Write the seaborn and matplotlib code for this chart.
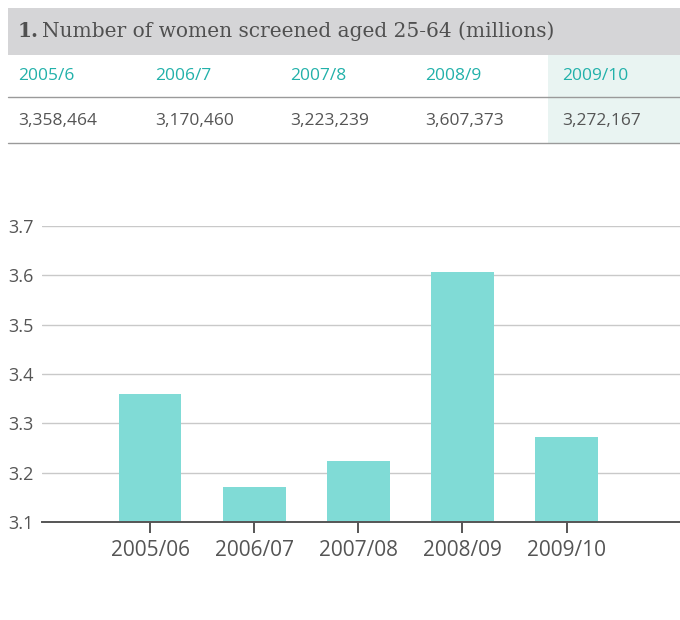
import matplotlib
matplotlib.use("Agg")
import matplotlib.pyplot as plt
from matplotlib.patches import Rectangle
from matplotlib.lines import Line2D
import seaborn as sns
import pandas as pd

# Screening data: women aged 25-64 screened per year
table_years = ["2005/6", "2006/7", "2007/8", "2008/9", "2009/10"]
table_counts = [3358464, 3170460, 3223239, 3607373, 3272167]
axis_years = ["2005/06", "2006/07", "2007/08", "2008/09", "2009/10"]
y_ticks = [3.1, 3.2, 3.3, 3.4, 3.5, 3.6, 3.7]
title_number = "1."
title_text = "Number of women screened aged 25-64 (millions)"

df = pd.DataFrame({"year": axis_years,
                   "millions": [c / 1e6 for c in table_counts]})

sns.set_theme(style="white")
plt.rcParams["font.family"] = ["Open Sans", "DejaVu Sans"]

W, H = 680, 620
fig = plt.figure(figsize=(W / 100, H / 100), dpi=100)

def fx(px):
    return px / W

def fy(py):
    return 1 - py / H

TEAL_TXT = "#22b1aa"
GREY_TXT = "#555555"

# Header band
fig.add_artist(Rectangle((fx(8), fy(55)), fx(672), (47) / H,
                         transform=fig.transFigure, color="#d5d5d7", lw=0))
# Highlighted latest column
fig.add_artist(Rectangle((fx(548), fy(143)), fx(132), (88) / H,
                         transform=fig.transFigure, color="#e9f4f2", lw=0))
# Row rules
for py in (97, 143):
    fig.add_artist(Line2D([fx(8), 1], [fy(py), fy(py)],
                          transform=fig.transFigure, color="#9a9a9a", lw=1.0))

fig.text(fx(18), fy(31), title_number, family="DejaVu Serif", weight="bold",
         fontsize=14.5, color="#505050", va="center", ha="left")
fig.text(fx(42), fy(31), title_text, family="DejaVu Serif",
         fontsize=14.5, color="#505050", va="center", ha="left")

col_x = [18, 155, 290, 425, 562]
for x, yr, cnt in zip(col_x, table_years, table_counts):
    fig.text(fx(x), fy(76), yr, fontsize=12.5, color=TEAL_TXT,
             va="center", ha="left")
    fig.text(fx(x), fy(121), f"{cnt:,}", fontsize=12.5, color=GREY_TXT,
             va="center", ha="left")

# Bar chart
ax = fig.add_axes([fx(42), fy(522), 1 - fx(42), (522 - 226) / H])
sns.barplot(data=df, x="year", y="millions", color="#80dbd6", width=0.6,
            saturation=1, linewidth=0, edgecolor="none", ax=ax, zorder=3)
ax.set_ylim(3.1, 3.7)
ax.set_xlim(-1.04, 5.09)
ax.set_yticks(y_ticks)
ax.set_yticklabels([f"{v:.1f}" for v in y_ticks])
ax.set_xlabel("")
ax.set_ylabel("")
ax.yaxis.grid(True, color="#c9c9c9", lw=1.0, zorder=0)
ax.set_axisbelow(True)
for s in ("top", "right", "left"):
    ax.spines[s].set_visible(False)
ax.spines["bottom"].set_color("#555555")
ax.spines["bottom"].set_linewidth(1.4)
ax.spines["bottom"].set_zorder(5)
ax.tick_params(axis="y", length=0, pad=6, labelsize=13, labelcolor=GREY_TXT)
ax.tick_params(axis="x", direction="out", length=8, width=1.4, color="#555555",
               pad=5, labelsize=15, labelcolor=GREY_TXT, bottom=True)

fig.savefig("out.png", dpi=100)
